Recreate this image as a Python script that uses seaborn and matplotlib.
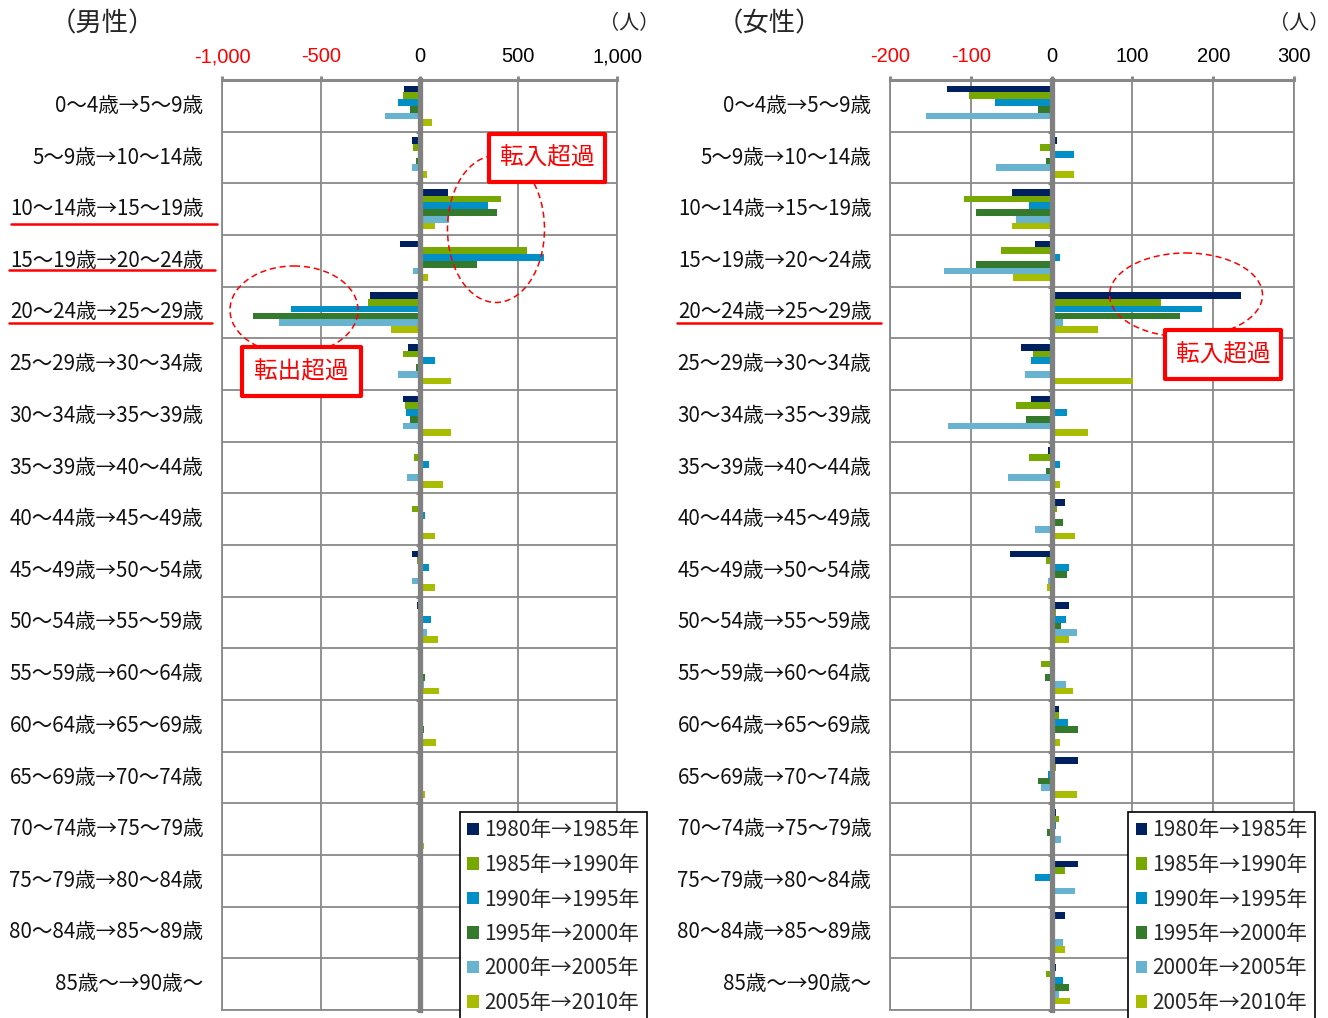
import numpy as np
import pandas as pd
import matplotlib
matplotlib.use("Agg")
import matplotlib.pyplot as plt
from matplotlib.patches import Ellipse, Rectangle, Patch
from matplotlib.lines import Line2D
from matplotlib.ticker import FuncFormatter, FixedLocator, NullFormatter
import seaborn as sns

# Age cohorts (age at start -> age five years later)
age_groups = [
    "0～4歳→5～9歳", "5～9歳→10～14歳", "10～14歳→15～19歳", "15～19歳→20～24歳",
    "20～24歳→25～29歳", "25～29歳→30～34歳", "30～34歳→35～39歳", "35～39歳→40～44歳",
    "40～44歳→45～49歳", "45～49歳→50～54歳", "50～54歳→55～59歳", "55～59歳→60～64歳",
    "60～64歳→65～69歳", "65～69歳→70～74歳", "70～74歳→75～79歳", "75～79歳→80～84歳",
    "80～84歳→85～89歳", "85歳～→90歳～",
]
periods = ["1980年→1985年", "1985年→1990年", "1990年→1995年",
           "1995年→2000年", "2000年→2005年", "2005年→2010年"]

# Net migration, males (persons)
male_1980 = [-79, -39, 143, -101, -249, -56, -86, 0, 18, -40, -15, 0, 17, 0, 0, 0, 0, 0]
male_1985 = [-82, -32, 414, 542, -263, -82, -72, -30, -37, -15, 0, 0, 17, 0, 0, 0, 0, 0]
male_1990 = [-109, -5, 347, 630, -650, 81, -67, 47, 30, 47, 57, 17, 0, 0, 0, 0, 0, 0]
male_1995 = [-47, -20, 394, 293, -842, -17, -47, 0, 0, 0, 0, 27, 24, 0, 18, 0, 0, 0]
male_2000 = [-173, -40, 148, -35, -709, -111, -86, -61, 0, -40, 39, 22, 0, 0, 0, 0, 0, 0]
male_2005 = [62, 39, 81, 45, -145, 158, 158, 118, 76, 79, 96, 99, 84, 27, 25, 15, 0, 0]

# Net migration, females (persons)
female_1980 = [-129, 7, -49, -21, 235, -38, -26, -5, 17, -51, 22, 0, 9, 33, 6, 33, 16, 5]
female_1985 = [-102, -14, -109, -63, 135, -23, -44, -28, 7, -7, 5, -13, 9, 6, 9, 16, 0, -7]
female_1990 = [-70, 28, -28, 11, 186, -25, 19, 10, 0, 21, 18, 0, 20, -5, 6, -21, 0, 14]
female_1995 = [-17, -7, -94, -94, 159, 0, -32, -7, 14, 19, 12, -8, 33, -17, -6, 0, 0, 22]
female_2000 = [-156, -69, -44, -133, 14, -33, -128, -54, -21, -5, 31, 18, 0, -13, 12, 29, 14, 9]
female_2005 = [0, 28, -49, -48, 58, 101, 45, 11, 29, -6, 22, 26, 11, 31, 0, 0, 16, 23]

colors = ["#002060", "#77A800", "#0090C8", "#357A2C", "#67B3D0", "#A8BC00"]


def to_long(series_list):
    rows = []
    for period, vals in zip(periods, series_list):
        for g, v in zip(age_groups, vals):
            rows.append((g, period, v))
    return pd.DataFrame(rows, columns=["age", "period", "value"])


male_df = to_long([male_1980, male_1985, male_1990, male_1995, male_2000, male_2005])
female_df = to_long([female_1980, female_1985, female_1990, female_1995, female_2000, female_2005])

sns.set_theme(style="white")
plt.rcParams["font.family"] = ["Liberation Sans", "Noto Sans CJK JP"]
JP = ["Noto Sans CJK JP", "Liberation Sans"]

W, H = 1328, 1018
fig = plt.figure(figsize=(W / 100, H / 100), dpi=100)

GRID = "#898989"
FS = 14.5


def panel(rect, df, xlim, step, legend_left):
    ax = fig.add_axes(rect)
    sns.barplot(data=df, y="age", x="value", hue="period", order=age_groups,
                hue_order=periods, palette=colors, width=0.78, errorbar=None,
                orient="h", legend=False, saturation=1, linewidth=0, ax=ax)
    n = len(age_groups)
    ax.set_xlabel("")
    ax.set_ylabel("")
    ax.set_xlim(*xlim)
    ax.set_ylim(n - 0.5, -0.5)

    # value axis on top, thousands separators, negatives in red
    ax.xaxis.set_major_locator(FixedLocator(np.arange(xlim[0], xlim[1] + 1, step)))
    ax.xaxis.set_major_formatter(FuncFormatter(lambda v, p: f"{v:,.0f}"))
    ax.xaxis.tick_top()
    ax.tick_params(axis="x", direction="out", length=3, width=2.2, color=GRID,
                   labelcolor="black", labelsize=FS, pad=7)
    for lab in ax.get_xticklabels():
        if lab.get_text().startswith("-"):
            lab.set_color("red")

    # category axis sits on x = 0, ticks at category boundaries
    ax.yaxis.set_major_locator(FixedLocator(np.arange(-0.5, n, 1.0)))
    ax.yaxis.set_major_formatter(NullFormatter())
    ax.tick_params(axis="y", direction="out", length=3, width=2.2, color=GRID, left=True)
    ax.spines["left"].set_position(("data", 0))
    ax.spines["left"].set_linewidth(3.8)
    ax.spines["left"].set_color("#808080")
    ax.spines["left"].set_zorder(4)
    ax.spines["top"].set_linewidth(2.2)
    ax.spines["top"].set_color(GRID)
    for side in ("right", "bottom"):
        ax.spines[side].set_linewidth(1.3)
        ax.spines[side].set_color(GRID)
    ax.axvline(xlim[0], color=GRID, lw=1.3, clip_on=False, zorder=0.6)

    ax.grid(True, color=GRID, linewidth=1.3)
    ax.set_axisbelow(True)

    for i, g in enumerate(age_groups):
        ax.annotate(g, xy=(0, i), xycoords=ax.get_yaxis_transform(),
                    xytext=(-13.5, 0), textcoords="offset points",
                    ha="right", va="center", fontsize=14.8, color="#111111",
                    family=JP)

    handles = [Patch(facecolor=c, edgecolor="none", label=p) for c, p in zip(colors, periods)]
    leg = ax.legend(handles=handles, loc="upper left",
                    bbox_to_anchor=(legend_left / W, 1 - 812 / H),
                    bbox_transform=fig.transFigure, frameon=True, fancybox=False,
                    edgecolor="black", framealpha=1,
                    prop={"family": JP, "size": 15},
                    handlelength=0.53, handleheight=0.53, handletextpad=0.25,
                    labelspacing=0.6, borderpad=0.36, borderaxespad=0)
    leg.get_frame().set_linewidth(1.2)
    return ax


ax_m = panel([222 / W, 8 / H, 395 / W, 930 / H], male_df, (-1000, 1000), 500, 460)
ax_f = panel([890 / W, 8 / H, 404 / W, 930 / H], female_df, (-200, 300), 100, 1128)

# annotation layer in figure pixels
ov = fig.add_axes([0, 0, 1, 1], zorder=10)
ov.set_xlim(0, W)
ov.set_ylim(H, 0)
ov.axis("off")

ov.text(50, 24, "（男性）", fontsize=19, ha="left", va="center", family=JP)
ov.text(659, 24, "（人）", fontsize=14.5, ha="right", va="center", family=JP)
ov.text(717, 24, "（女性）", fontsize=19, ha="left", va="center", family=JP)
ov.text(1329, 24, "（人）", fontsize=14.5, ha="right", va="center", family=JP)

# underlines on key age groups
for x0, x1, y in [(11, 217, 224), (9, 215, 270), (9, 212, 323), (677, 881, 323)]:
    ov.add_line(Line2D([x0, x1], [y, y], color="red", lw=1.8))

# dashed ellipses
for cx, cy, w, h in [(496, 229, 97, 147), (294, 310, 128, 88), (1186, 295, 153, 84)]:
    ov.add_patch(Ellipse((cx, cy), w, h, fill=False, edgecolor="red",
                         lw=1.1, linestyle=(0, (4, 2.5))))

# labelled boxes
for x0, y0, x1, y1, label in [(489, 134, 605, 182, "転入超過"),
                              (242, 347, 361, 396, "転出超過"),
                              (1165, 330, 1281, 379, "転入超過")]:
    ov.add_patch(Rectangle((x0, y0), x1 - x0, y1 - y0, facecolor="white",
                           edgecolor="red", lw=3.0, joinstyle="round"))
    ov.text((x0 + x1) / 2, (y0 + y1) / 2, label, color="red", fontsize=17,
            ha="center", va="center", family=JP)

fig.savefig("out.png", dpi=100)
